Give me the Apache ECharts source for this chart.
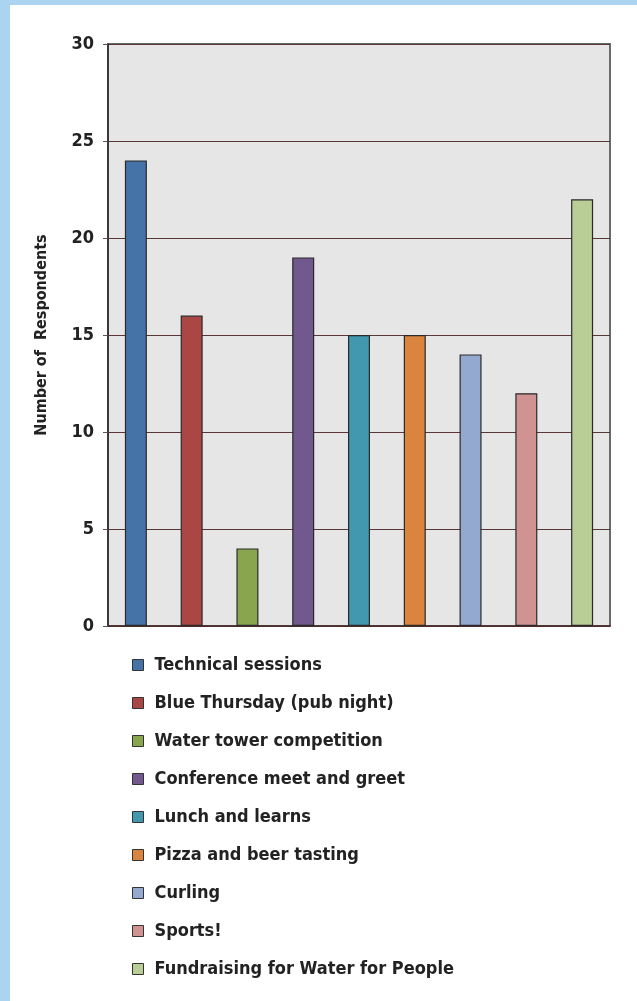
<!DOCTYPE html>
<html>
<head>
<meta charset="utf-8">
<style>
  html, body { margin: 0; padding: 0; background: #ffffff; }
  #frame {
    position: absolute; left: 0; top: 0; width: 637px; height: 1001px;
    box-sizing: border-box; border-left: 10px solid #abd4f0; border-top: 5px solid #abd4f0;
    background: #ffffff;
  }
  #chart { position: absolute; left: 0; top: 0; width: 637px; height: 1001px; }
</style>
<script src="https://cdn.jsdelivr.net/npm/echarts@6/dist/echarts.min.js"></script>
</head>
<body>
<div id="frame"></div>
<div id="chart"></div>
<script>
// Event preferences survey: respondents per activity
const activities = [
  'Technical sessions',
  'Blue Thursday (pub night)',
  'Water tower competition',
  'Conference meet and greet',
  'Lunch and learns',
  'Pizza and beer tasting',
  'Curling',
  'Sports!',
  'Fundraising for Water for People'
];
const respondents = [24, 16, 4, 19, 15, 15, 14, 12, 22];
const barColors = ['#4572a7', '#aa4643', '#89a54e', '#71588f', '#4198af', '#db843d', '#93a9cf', '#d19392', '#b9cd96'];
const yTicks = [0, 5, 10, 15, 20, 25, 30];

const fontFamily = '"Liberation Sans Narrow", "DejaVu Sans Condensed", "Liberation Sans", sans-serif';

// One series per activity so each gets a legend entry; all share one slot per category
const series = activities.map((name, i) => ({
  name: name,
  type: 'bar',
  barWidth: 22,
  barGap: '-100%',
  data: activities.map((_, j) => (j === i ? respondents[i] : '-')),
  itemStyle: { color: barColors[i], borderColor: '#2a2a2a', borderWidth: 1.2 },
  emphasis: { disabled: true }
}));

const chart = echarts.init(document.getElementById('chart'), null, { renderer: 'canvas' });
chart.setOption({
  animation: false,
  grid: {
    left: 108, top: 44, width: 502, height: 582,
    show: true, backgroundColor: '#e6e6e6', borderColor: '#6a6a6a', borderWidth: 2
  },
  legend: {
    orient: 'vertical',
    left: 127, top: 650,
    itemWidth: 11, itemHeight: 11,
    itemGap: 18,
    icon: 'rect',
    itemStyle: { borderColor: '#333333', borderWidth: 1 },
    textStyle: {
      fontFamily: fontFamily, fontWeight: 'bold', fontSize: 18, color: '#222222',
      lineHeight: 20, padding: [0, 0, 0, 6]
    },
    data: activities
  },
  xAxis: {
    type: 'category',
    data: activities,
    axisLine: { show: true, lineStyle: { color: '#4a2a2a', width: 1.5 } },
    axisTick: { show: false },
    axisLabel: { show: false },
    splitLine: { show: false }
  },
  yAxis: {
    type: 'value',
    min: yTicks[0], max: yTicks[yTicks.length - 1], interval: 5,
    name: 'Number of  Respondents',
    nameLocation: 'middle',
    nameGap: 58,
    nameRotate: 90,
    nameTextStyle: { fontFamily: fontFamily, fontWeight: 'bold', fontSize: 16, color: '#222222' },
    axisLine: { show: true, lineStyle: { color: '#2a2a2a', width: 1.5 } },
    axisTick: { show: true, length: 5, lineStyle: { color: '#555555' } },
    axisLabel: { fontFamily: fontFamily, fontWeight: 'bold', fontSize: 18, color: '#222222', margin: 14 },
    splitLine: { show: true, lineStyle: { color: '#5a3636', width: 1.2 } }
  },
  series: series
});
</script>
</body>
</html>
